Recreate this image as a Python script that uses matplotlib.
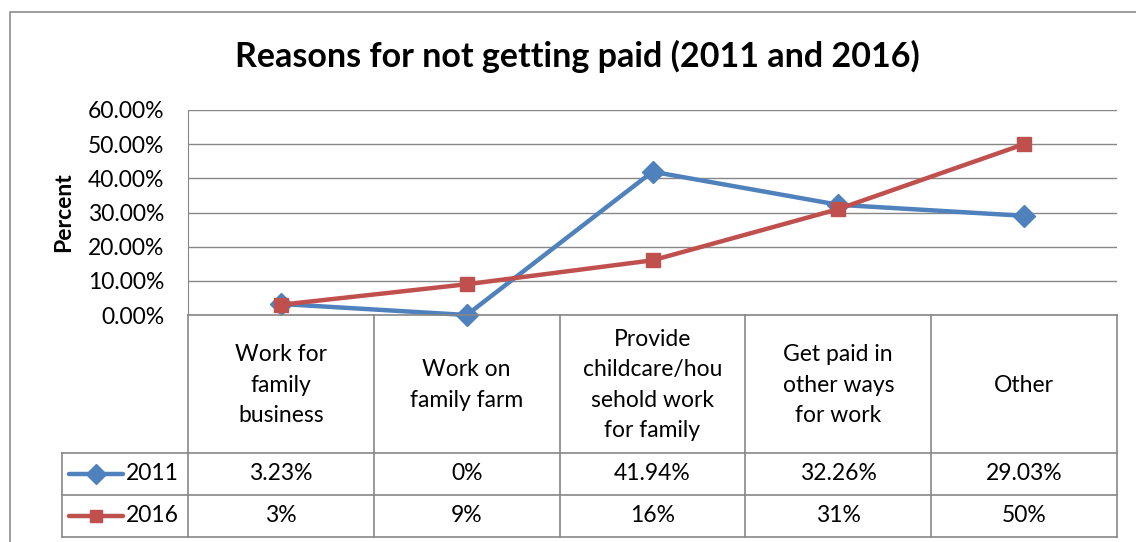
import numpy as np
import matplotlib.pyplot as plt
from matplotlib.lines import Line2D

plt.rcParams['font.family'] = ['Lato', 'DejaVu Sans']

categories = ['Work for\nfamily\nbusiness', 'Work on\nfamily farm',
              'Provide\nchildcare/hou\nsehold work\nfor family',
              'Get paid in\nother ways\nfor work', 'Other']
series_names = ['2011', '2016']
vals_2011 = [3.23, 0, 41.94, 32.26, 29.03]
vals_2016 = [3, 9, 16, 31, 50]
labels_2011 = ['3.23%', '0%', '41.94%', '32.26%', '29.03%']
labels_2016 = ['3%', '9%', '16%', '31%', '50%']
yticks = [0, 10, 20, 30, 40, 50, 60]

W, H = 1136, 542
colors = ['#4F81BD', '#C0504D']
markers = ['D', 's']
msizes = [11, 10]
grid_c = '#878787'
fs = 16.5

fig = plt.figure(figsize=(W / 100, H / 100), dpi=100)

# plot area in pixels
px0, px1, py0, py1 = 188, 1117, 110, 315
ax = fig.add_axes([px0 / W, 1 - py1 / H, (px1 - px0) / W, (py1 - py0) / H])
x = np.arange(len(categories)) + 0.5
for vals, c, m, ms in zip([vals_2011, vals_2016], colors, markers, msizes):
    ax.plot(x, vals, color=c, lw=3.2, marker=m, ms=ms, zorder=3, clip_on=False)
ax.set_xlim(0, len(categories))
ax.set_ylim(0, 60)
ax.set_yticks(yticks)
ax.set_yticklabels(['%.2f%%' % t for t in yticks], fontsize=fs)
ax.yaxis.grid(True, color=grid_c, lw=1)
ax.set_xticks([])
ax.tick_params(axis='y', length=0, pad=17)
for s in ['top', 'right', 'bottom']:
    ax.spines[s].set_visible(False)
ax.spines['left'].set_color(grid_c)
ax.set_axisbelow(True)
ax.set_ylabel('Percent', fontsize=fs, fontweight='bold', labelpad=10)

# overlay in pixel coordinates for frame, title and data table
ov = fig.add_axes([0, 0, 1, 1], facecolor='none')
ov.set_xlim(0, W)
ov.set_ylim(H, 0)
ov.axis('off')

# chart border
ov.plot([9.5, 9.5, W], [H, 11.5, 11.5], color='#8c8c8c', lw=1.2)

ov.text(577, 56, 'Reasons for not getting paid (2011 and 2016)',
        ha='center', va='center', fontsize=24.5, fontweight='bold')

# table grid
colw = (px1 - px0) / len(categories)
row_top, row1, row2, row3 = 315, 453, 495, 537
lk = dict(color=grid_c, lw=1.2)
for i in range(len(categories) + 1):
    xi = px0 + i * colw
    ov.plot([xi, xi], [row_top, row3], **lk)
ov.plot([px0, px1], [row_top, row_top], **lk)
ov.plot([62, px1], [row1, row1], **lk)
ov.plot([62, px1], [row2, row2], **lk)
ov.plot([62, px1], [row3, row3], **lk)
ov.plot([62, 62], [row1, row3], **lk)

for i, cat in enumerate(categories):
    cx = px0 + (i + 0.5) * colw
    ov.text(cx, (row_top + row1) / 2 + 1, cat, ha='center', va='center',
            fontsize=fs, linespacing=1.55)
    ov.text(cx, (row1 + row2) / 2, labels_2011[i], ha='center', va='center', fontsize=fs)
    ov.text(cx, (row2 + row3) / 2, labels_2016[i], ha='center', va='center', fontsize=fs)

# legend keys in the table
for j, (name, c, m, ms) in enumerate(zip(series_names, colors, markers, msizes)):
    yy = (row1 + row2) / 2 + j * (row2 - row1)
    ov.add_line(Line2D([69, 123], [yy, yy], color=c, lw=3.2, solid_capstyle='round'))
    ov.add_line(Line2D([96], [yy], color=c, marker=m, ms=ms - 1))
    ov.text(126, yy, name, ha='left', va='center', fontsize=fs)

fig.savefig('out.png', dpi=100)
